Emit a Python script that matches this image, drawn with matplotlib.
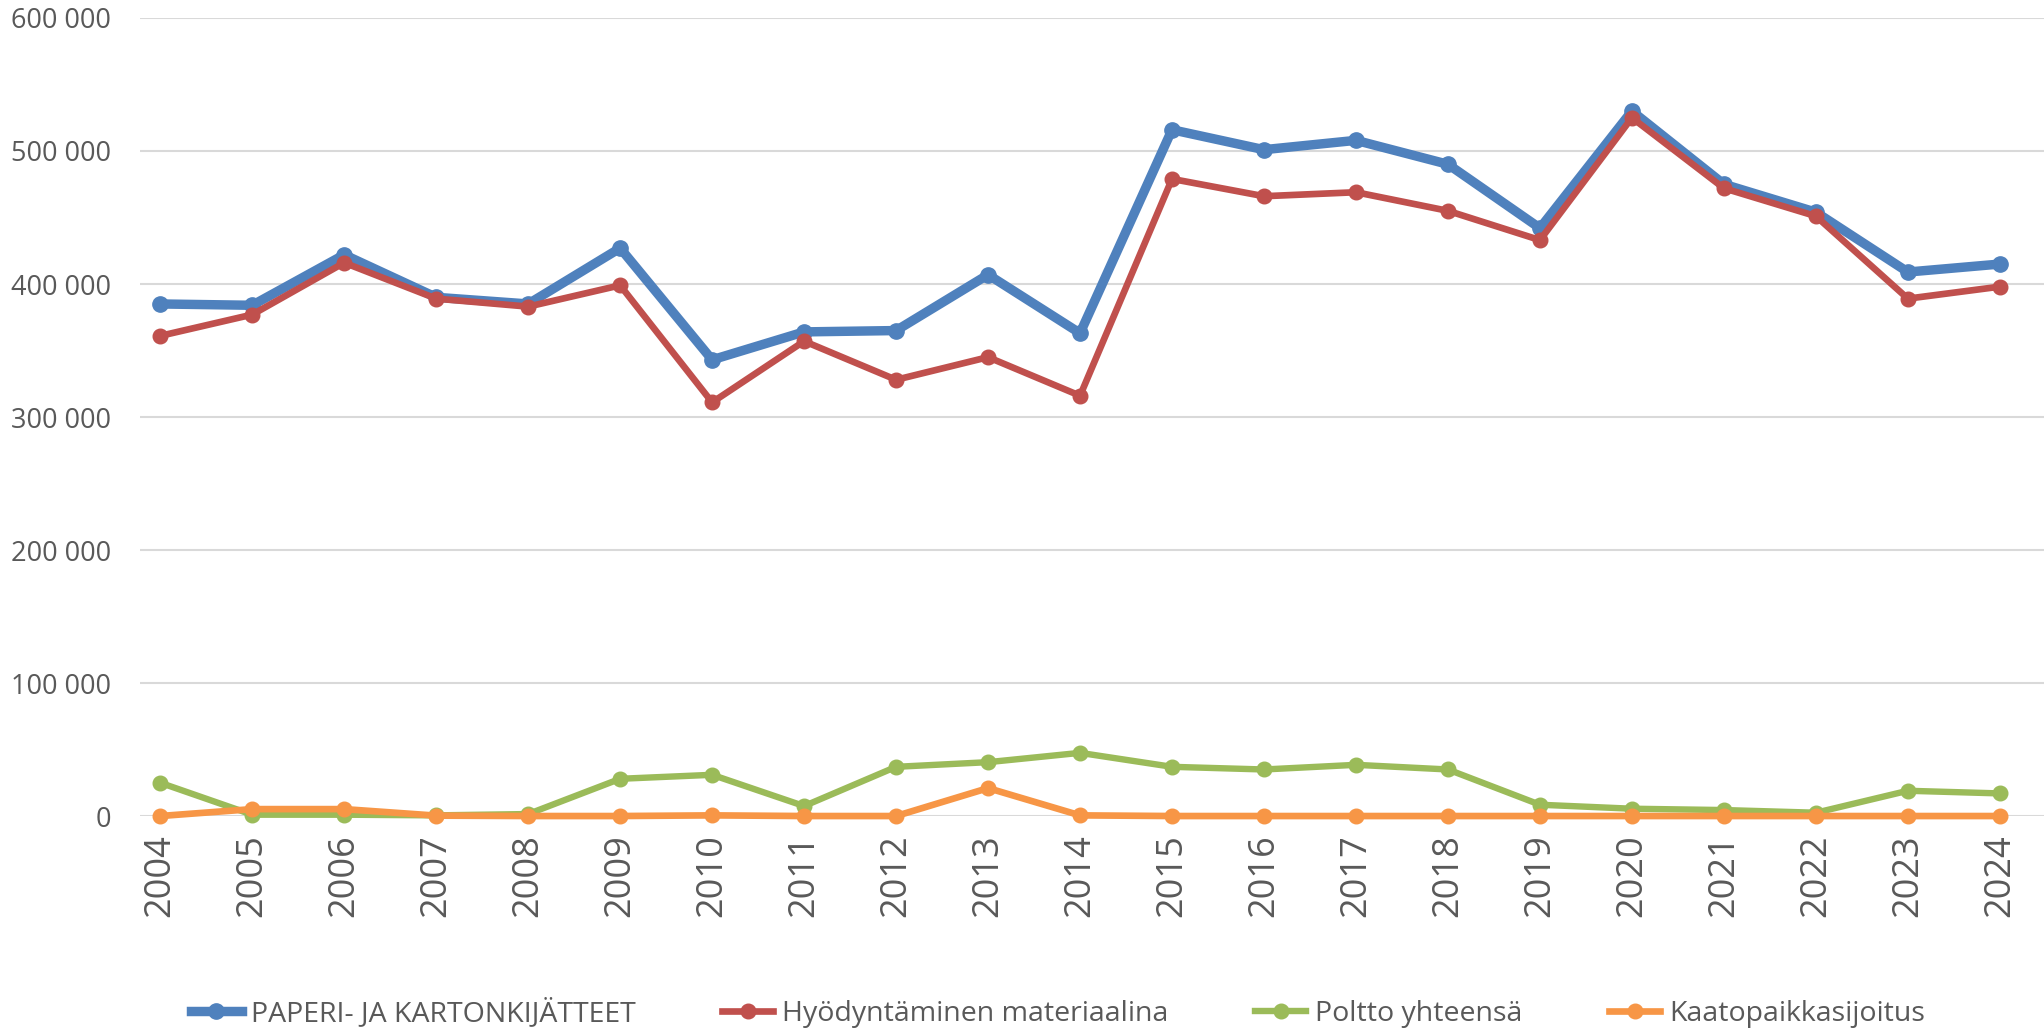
import matplotlib
matplotlib.use("Agg")
import matplotlib.pyplot as plt
from matplotlib.ticker import FuncFormatter

plt.rcParams['font.family'] = ['Open Sans', 'DejaVu Sans']

years = [str(y) for y in range(2004, 2025)]
paperi = [385000, 384000, 422000, 390000, 385000, 427000, 343000, 364000, 365000, 407000, 363000,
          516000, 501000, 508000, 490000, 442000, 530000, 475000, 454000, 409000, 415000]
hyodyntaminen = [361000, 377000, 416000, 389000, 383000, 399000, 311000, 357000, 328000, 345000, 316000,
                 479000, 466000, 469000, 455000, 433000, 525000, 472000, 451000, 389000, 398000]
poltto = [25000, 1000, 1000, 500, 1500, 28000, 31000, 7500, 37000, 40500, 47500,
          37000, 35000, 38500, 35000, 8500, 5500, 4500, 2500, 19000, 17000]
kaatopaikka = [0, 5200, 5200, 300, 0, 0, 500, 0, 0, 21000, 500,
               0, 0, 0, 0, 0, 0, 0, 0, 0, 0]

labels = ['PAPERI- JA KARTONKIJÄTTEET', 'Hyödyntäminen materiaalina', 'Poltto yhteensä', 'Kaatopaikkasijoitus']
colors = ['#4F81BD', '#C0504D', '#9BBB59', '#F79646']

fig = plt.figure(figsize=(20.44, 10.34), dpi=100)
ax = fig.add_axes([0.0685, 0.2108, 0.9315, 0.7718])

x = range(len(years))
ax.plot(x, paperi, color=colors[0], lw=6.8, marker='o', ms=11, label=labels[0], zorder=3, clip_on=False)
ax.plot(x, hyodyntaminen, color=colors[1], lw=4.8, marker='o', ms=10.5, label=labels[1], zorder=4, clip_on=False)
ax.plot(x, poltto, color=colors[2], lw=4.6, marker='o', ms=10.5, label=labels[2], zorder=3, clip_on=False)
ax.plot(x, kaatopaikka, color=colors[3], lw=4.8, marker='o', ms=10.5, label=labels[3], zorder=4, clip_on=False)

ax.set_ylim(0, 600000)
ax.set_xlim(-0.22, 20.48)
ax.set_yticks(range(0, 600001, 100000))
ax.yaxis.set_major_formatter(FuncFormatter(lambda v, p: f"{int(v):,}".replace(',', ' ')))
ax.set_xticks(list(x))
ax.set_xticklabels(years, rotation=90)
ax.grid(axis='y', color='#D9D9D9', lw=1.5)
ax.set_axisbelow(True)
for s in ax.spines.values():
    s.set_visible(False)
ax.tick_params(axis='y', length=0, pad=21, labelsize=19.5, labelcolor='#595959')
ax.tick_params(axis='x', length=0, pad=13, labelsize=26, labelcolor='#595959')

fig.legend(loc='center', bbox_to_anchor=(0.5175, 1 - 1013 / 1034), ncol=4, frameon=False,
           fontsize=20.5, handlelength=1.8, handletextpad=0.3, columnspacing=3.05,
           labelcolor='#595959')

fig.savefig('out.png', dpi=100)
